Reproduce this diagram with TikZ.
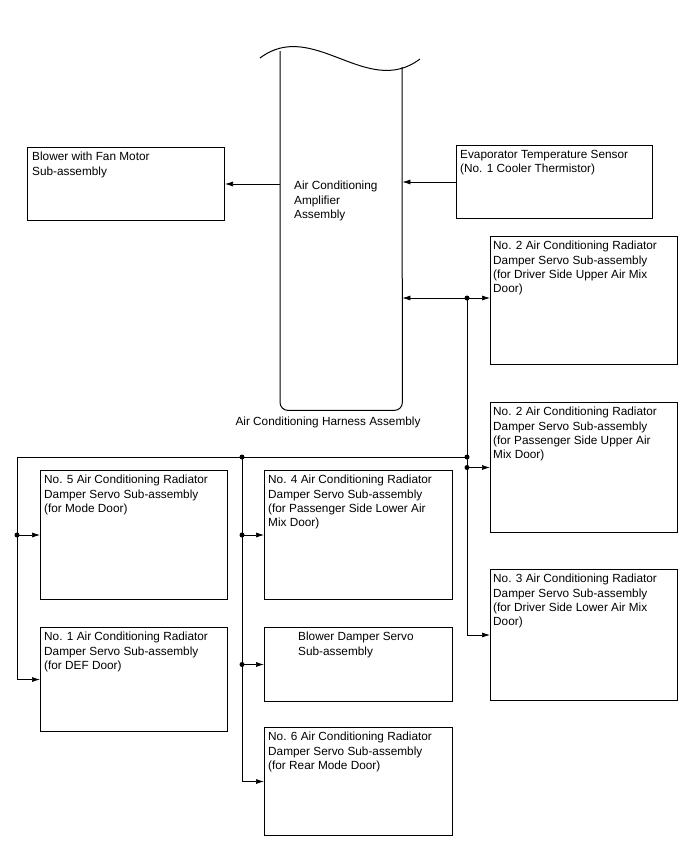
\documentclass[tikz,border=0pt]{standalone}
\usepackage{fontspec}
\setmainfont{Liberation Sans}
\usetikzlibrary{arrows.meta,positioning}
\tikzset{box/.style={draw,line width=1pt,inner sep=0pt,minimum width=187pt},txt/.style={anchor=north west,inner sep=0pt,align=left,font=\fontsize{11.8}{14.3}\selectfont},arrow/.style={-{Latex[length=8pt,width=5pt]},line width=0.7pt},wire/.style={line width=0.7pt},dot/.style={radius=2.5pt}}
\begin{document}
\begin{tikzpicture}[x=1pt,y=-1pt]
\useasboundingbox (0,0) rectangle (688,852);
% amplifier (cut off at the top)
\node[inner sep=0pt,minimum width=122pt,minimum height=359pt,anchor=north west] (amp) at (280,51) {};
\draw[line width=1pt] (260,58) .. controls (313,18) and (367,99) .. (420,59);
\draw[line width=1pt,rounded corners=8pt] (amp.north west) -- (amp.south west) -- (amp.south east) -- (402,67);
\node[txt] (amptxt) at (294,181) {Air Conditioning\\Amplifier\\Assembly};
\node[font=\fontsize{11.8}{14.3}\selectfont] (harness) at (328,422) {Air Conditioning Harness Assembly};
% top boxes
\node[box,minimum width=197pt,minimum height=73pt,anchor=north west] (blower) at (27,147) {};
\node[txt] (blowertxt) at ([shift={(5pt,-5pt)}]blower.north west) {Blower with Fan Motor\\Sub-assembly};
\node[box,minimum width=196pt,minimum height=73pt,anchor=north west] (evap) at (456,145) {};
\node[txt] (evaptxt) at ([shift={(4pt,-5pt)}]evap.north west) {Evaporator Temperature Sensor\\(No. 1 Cooler Thermistor)};
% right column
\node[box,minimum height=128pt,anchor=north west] (d2up) at (490,236) {};
\node[txt] (d2uptxt) at ([shift={(3pt,-5pt)}]d2up.north west) {No. 2 Air Conditioning Radiator\\Damper Servo Sub-assembly\\(for Driver Side Upper Air Mix\\Door)};
\node[box,minimum height=130pt,below=37pt of d2up] (d2pass) {};
\node[txt] (d2passtxt) at ([shift={(3pt,-5pt)}]d2pass.north west) {No. 2 Air Conditioning Radiator\\Damper Servo Sub-assembly\\(for Passenger Side Upper Air\\Mix Door)};
\node[box,minimum height=131pt,below=36pt of d2pass] (d3) {};
\node[txt] (d3txt) at ([shift={(3pt,-5pt)}]d3.north west) {No. 3 Air Conditioning Radiator\\Damper Servo Sub-assembly\\(for Driver Side Lower Air Mix\\Door)};
% left column
\node[box,minimum height=129pt,anchor=north west] (d5) at (40,470) {};
\node[txt] (d5txt) at ([shift={(4pt,-5pt)}]d5.north west) {No. 5 Air Conditioning Radiator\\Damper Servo Sub-assembly\\(for Mode Door)};
\node[box,minimum height=104pt,below=27pt of d5] (d1) {};
\node[txt] (d1txt) at ([shift={(4pt,-5pt)}]d1.north west) {No. 1 Air Conditioning Radiator\\Damper Servo Sub-assembly\\(for DEF Door)};
% middle column
\node[box,minimum width=188pt,minimum height=129pt,anchor=north west] (d4) at (264,470) {};
\node[txt] (d4txt) at ([shift={(4pt,-5pt)}]d4.north west) {No. 4 Air Conditioning Radiator\\Damper Servo Sub-assembly\\(for Passenger Side Lower Air\\Mix Door)};
\node[box,minimum width=188pt,minimum height=74pt,below=27pt of d4] (bds) {};
\node[txt] (bdstxt) at ([shift={(34pt,-5pt)}]bds.north west) {Blower Damper Servo\\Sub-assembly};
\node[box,minimum width=188pt,minimum height=108pt,below=25pt of bds] (d6) {};
\node[txt] (d6txt) at ([shift={(4pt,-5pt)}]d6.north west) {No. 6 Air Conditioning Radiator\\Damper Servo Sub-assembly\\(for Rear Mode Door)};
% connectors
\draw[arrow] (amp.west|-blower.east) -- (blower.east);
\draw[arrow] (evap.west) -- (evap.west-|amp.east);
\coordinate (j1) at (467,298);
\coordinate (j2) at (467,457);
\coordinate (j3) at (j1|-d2pass.west);
\coordinate (lx) at (17,457);
\coordinate (cx) at (242,457);
\draw[{Latex[length=8pt,width=5pt]}-{Latex[length=8pt,width=5pt]},line width=0.7pt] (amp.east|-j1) -- (j1-|d2up.west);
\draw[arrow] (j1) |- (d3.west);
\draw[arrow] (j3) -- (d2pass.west);
\draw[wire] (j2) -- (lx);
\draw[arrow] (lx) |- (d1.west);
\draw[arrow] (lx|-d5.west) -- (d5.west);
\draw[arrow] (cx) |- (d6.west);
\draw[arrow] (cx|-d4.west) -- (d4.west);
\draw[arrow] (cx|-bds.west) -- (bds.west);
\foreach \p in {j1,j2,j3,cx,{lx|-d5.west},{cx|-d4.west},{cx|-bds.west}}
  \fill[dot] (\p) circle;
\end{tikzpicture}
\end{document}
